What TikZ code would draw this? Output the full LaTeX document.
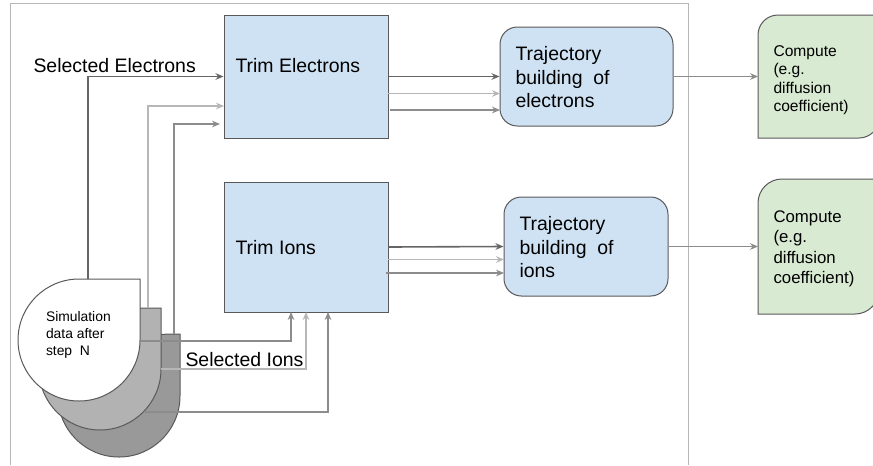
\documentclass[tikz,border=0pt]{standalone}
\usepackage{fontspec}
\setmainfont{Liberation Sans}
\usetikzlibrary{arrows.meta}

\definecolor{boxblue}{HTML}{CFE2F3}
\definecolor{boxgreen}{HTML}{D9EAD3}
\definecolor{edgegrey}{HTML}{595959}
\definecolor{framegrey}{HTML}{B7B7B7}
\definecolor{wiredark}{HTML}{666666}
\definecolor{wirelight}{HTML}{B7B7B7}
\definecolor{wiremid}{HTML}{8C8C8C}

\tikzset{every picture/.style={line width=0.75pt}}
\tikzset{
  trimbox/.style={draw=edgegrey,fill=boxblue,minimum width=123pt,inner sep=0pt},
  trajbox/.style={draw=edgegrey,fill=boxblue,rounded corners=13pt,inner sep=0pt,anchor=center},
  bigtext/.style={anchor=west,inner sep=0pt,align=left,font=\fontsize{14.6}{17.6}\selectfont},
  wire/.style={-{Stealth[length=6pt,width=5pt]}},
  thickdark/.style={wire,draw=wiredark,line width=1.2pt},
  thicklight/.style={wire,draw=wirelight,line width=1.3pt},
  thinmid/.style={wire,draw=wiremid,line width=0.8pt},
  thinout/.style={wire,draw=wiremid,line width=0.6pt}
}

\begin{document}
\begin{tikzpicture}[x=0.75pt,y=0.75pt,yscale=-1,xscale=1]
        \useasboundingbox (0,0) rectangle (873,465);

        %Frame
        \draw [framegrey] (10,465) -- (10,3) -- (688,3) -- (688,465) ;

        %Stacked data sheets
        \draw [edgegrey,fill=black!40] (180,334) -- (180,396) arc (0:270:61) -- cycle ;
        \draw [edgegrey,fill=black!30] (161,308) -- (161,369) arc (0:270:61) -- cycle ;
        \draw [edgegrey,fill=white] (140,279) -- (140,340) arc (0:270:61) -- cycle ;

        %Boxes
        \node (trimE) [trimbox,minimum height=92.25pt] at (306,76.5) {};
        \node (trimI) [trimbox,minimum height=97.5pt] at (306,247) {};
        \node (trajE) [trajbox,minimum width=129.75pt,minimum height=74.25pt] at (586.5,76.5) {};
        \node (trajI) [trajbox,minimum width=123pt,minimum height=74.25pt] at (586,246.5) {};

        %Compute boxes, right side runs off the page
        \draw [edgegrey,fill=boxgreen] (758,138) [rounded corners=15pt] -- (758,15) [sharp corners] -- (879,15) [rounded corners=15pt] -- (879,138) [sharp corners] -- cycle ;
        \draw [edgegrey,fill=boxgreen] (758,314) [rounded corners=18pt] -- (758,179) [sharp corners] -- (879,179) [rounded corners=18pt] -- (879,314) [sharp corners] -- cycle ;

        %Connector ends
        \coordinate (simAtop) at (88,279);
        \coordinate (simBtop) at (148,308);
        \coordinate (simCtop) at (174,334);
        \coordinate (simAright) at (140,341);
        \coordinate (simBright) at (161,369);
        \coordinate (simCright) at (144,412);
        \coordinate (trimEinB) at (224,106);
        \coordinate (trimEinC) at (220,124);
        \coordinate (trimIinA) at (291,312);
        \coordinate (trimIinB) at (306,312);
        \coordinate (trimIinC) at (328,312);
        \coordinate (trimEoutB) at (388,93.5);
        \coordinate (trimEoutC) at (390,110);
        \coordinate (trajEinB) at (500,93.5);
        \coordinate (trajEinC) at (500,110);
        \coordinate (trimIoutB) at (388,259.5);
        \coordinate (trimIoutC) at (386,273);
        \coordinate (trajIinB) at (504,259.5);
        \coordinate (trajIinC) at (504,273);
        \coordinate (compEin) at (758,76.5);
        \coordinate (compIin) at (758,246.5);

        %Data to trim electrons
        \draw [thickdark] (simAtop) |- (trimE.west) ;
        \draw [thicklight] (simBtop) |- (trimEinB) ;
        \draw [thinmid] (simCtop) |- (trimEinC) ;

        %Data to trim ions
        \draw [thinmid] (simAright) -| (trimIinA) ;
        \draw [thicklight] (simBright) -| (trimIinB) ;
        \draw [thinmid] (simCright) -| (trimIinC) ;

        %Trim to trajectory
        \draw [thickdark] (trimE.east) -- (trajE.west) ;
        \draw [thicklight] (trimEoutB) -- (trajEinB) ;
        \draw [thinmid] (trimEoutC) -- (trajEinC) ;
        \draw [thickdark] (trimI.east) -- (trajI.west) ;
        \draw [thicklight] (trimIoutB) -- (trajIinB) ;
        \draw [thinmid] (trimIoutC) -- (trajIinC) ;

        %Trajectory to compute
        \draw [thinout] (trajE.east) -- (compEin) ;
        \draw [thinout] (trajI.east) -- (compIin) ;

        % Text Node
        \node (selE) [bigtext] at (33,65.5) {Selected Electrons};
        % Text Node
        \node (selI) [bigtext] at (185,360) {Selected Ions};
        % Text Node
        \node (trimEtext) [bigtext] at (235,65.5) {Trim Electrons};
        % Text Node
        \node (trimItext) [bigtext] at (235,248) {Trim Ions};
        % Text Node
        \node (trajEtext) [bigtext] at (515,77.5) {Trajectory\\building\ \ of\\electrons};
        % Text Node
        \node (trajItext) [bigtext] at (519,247.5) {Trajectory\\building\ \ of\\ions};
        % Text Node
        \node (compEtext) [anchor=west,inner sep=0pt,align=left,font=\fontsize{11.7}{13.8}\selectfont] at (773,80) {Compute\\(e.g.\\diffusion\\coefficient)};
        % Text Node
        \node (compItext) [anchor=west,inner sep=0pt,align=left,font=\fontsize{12.6}{15.3}\selectfont] at (773,249) {Compute\\(e.g.\\diffusion\\coefficient)};
        % Text Node
        \node (simtext) [anchor=west,inner sep=0pt,align=left,font=\fontsize{10.4}{12.7}\selectfont] at (45.5,334.5) {Simulation\\data after\\step\ \ N};

    \end{tikzpicture}
\end{document}
